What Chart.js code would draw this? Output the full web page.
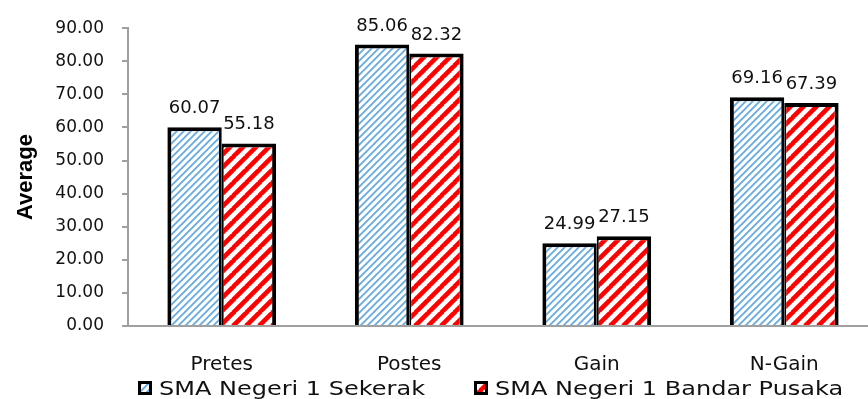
<!DOCTYPE html>
<html>
<head>
<meta charset="utf-8">
<script src="https://cdn.jsdelivr.net/npm/chart.js@4/dist/chart.umd.min.js"></script>
<style>
  html, body { margin: 0; padding: 0; background: #fff; overflow: hidden; }
  #wrap { width: 868px; height: 399px; overflow: hidden; position: relative; }
  canvas { display: block; }
</style>
</head>
<body>
<div id="wrap"><canvas id="c" width="878" height="399"></canvas></div>
<script>
// Test phases
const categories = ['Pretes', 'Postes', 'Gain', 'N-Gain'];
// Average scores per school
const sekerak = [60.07, 85.06, 24.99, 69.16];
const bandarPusaka = [55.18, 82.32, 27.15, 67.39];
const seriesNames = ['SMA Negeri 1 Sekerak', 'SMA Negeri 1 Bandar Pusaka'];
// Y axis range
const yMin = 0, yMax = 90, yStep = 10;

// Diagonal stripe fill (rising to the right)
function stripes(color, period, width) {
  const t = document.createElement('canvas');
  t.width = period; t.height = period;
  const g = t.getContext('2d');
  g.fillStyle = '#fff';
  g.fillRect(0, 0, period, period);
  g.strokeStyle = color;
  g.lineWidth = width;
  g.beginPath();
  for (let k = -1; k <= 1; k++) {
    g.moveTo(k * period - 1, period + 1);
    g.lineTo(k * period + period + 1, -1);
  }
  g.stroke();
  return document.getElementById('c').getContext('2d').createPattern(t, 'repeat');
}
const blueFill = stripes('rgb(105,172,226)', 7, 1.9);
const redFill = stripes('#ff0000', 13, 4.6);

// Value text above each bar
const valueLabels = {
  id: 'valueLabels',
  afterDatasetsDraw(chart) {
    const ctx = chart.ctx;
    ctx.save();
    ctx.font = '18px "DejaVu Sans"';
    ctx.fillStyle = '#111';
    ctx.textAlign = 'center';
    ctx.textBaseline = 'alphabetic';
    chart.data.datasets.forEach((ds, i) => {
      chart.getDatasetMeta(i).data.forEach((bar, j) => {
        ctx.fillText(ds.data[j].toFixed(2), bar.x, bar.y - 14);
      });
    });
    ctx.restore();
  }
};

// Legend row under the category labels
const bottomLegend = {
  id: 'bottomLegend',
  afterDraw(chart) {
    const ctx = chart.ctx;
    const xs = [138, 474];
    const y = 381;
    ctx.save();
    chart.data.datasets.forEach((ds, i) => {
      const x = xs[i];
      ctx.fillStyle = ds.backgroundColor;
      ctx.fillRect(x, y, 14, 14);
      ctx.lineWidth = 3;
      ctx.strokeStyle = '#000';
      ctx.strokeRect(x + 1.5, y + 1.5, 11, 11);
      ctx.save();
      ctx.translate(x + 21, y + 14);
      ctx.scale(1.2, 1);
      ctx.font = '20px "DejaVu Sans"';
      ctx.fillStyle = '#111';
      ctx.textBaseline = 'alphabetic';
      ctx.fillText(ds.label, 0, 0);
      ctx.restore();
    });
    ctx.restore();
  }
};

new Chart(document.getElementById('c'), {
  type: 'bar',
  data: {
    labels: categories,
    datasets: [
      { label: seriesNames[0], data: sekerak, backgroundColor: blueFill,
        borderColor: '#000', borderWidth: { top: 4, left: 4, right: 3, bottom: 0 },
        inflateAmount: 0 },
      { label: seriesNames[1], data: bandarPusaka, backgroundColor: redFill,
        borderColor: '#000', borderWidth: { top: 4, left: 2, right: 4, bottom: 0 },
        inflateAmount: 0 }
    ]
  },
  options: {
    responsive: false,
    animation: false,
    layout: { padding: { top: 27, right: 0, bottom: 0, left: 0 } },
    datasets: { bar: { barPercentage: 1.0, categoryPercentage: 0.58 } },
    plugins: { legend: { display: false }, tooltip: { enabled: false } },
    scales: {
      x: {
        grid: { display: false },
        border: { color: '#a0a0a0', width: 2 },
        ticks: { color: '#111', font: { family: 'DejaVu Sans', size: 20 }, padding: 19 },
        afterFit(scale) { scale.height = 73; }
      },
      y: {
        min: yMin, max: yMax,
        ticks: {
          stepSize: yStep,
          color: '#111',
          font: { family: 'DejaVu Sans', size: 17 },
          padding: 18,
          callback: v => v.toFixed(2)
        },
        grid: { drawOnChartArea: false, tickLength: 6, color: '#a0a0a0', lineWidth: 2 },
        border: { color: '#a0a0a0', width: 2 },
        title: {
          display: true, text: 'Average', color: '#000',
          font: { family: 'Liberation Sans', size: 22, weight: 'bold' },
          padding: { top: 13, bottom: 0 }
        },
        afterFit(scale) { scale.width = 128; }
      }
    }
  },
  plugins: [valueLabels, bottomLegend]
});
</script>
</body>
</html>
